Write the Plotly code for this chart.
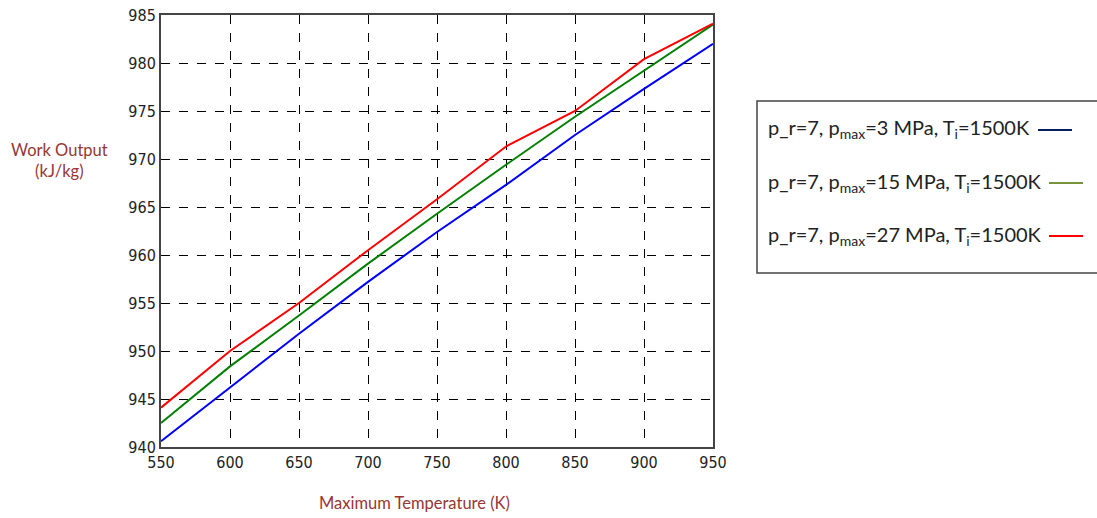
import plotly.graph_objects as go

temps = [550, 600, 650, 700, 750, 800, 850, 900, 950]
work_3mpa = [940.6, 946.2, 951.8, 957.2, 962.4, 967.3, 972.5, 977.3, 982.0]
work_15mpa = [942.5, 948.4, 953.7, 959.1, 964.3, 969.4, 974.4, 979.2, 984.0]
work_27mpa = [944.1, 950.0, 955.0, 960.5, 965.8, 971.3, 975.0, 980.4, 984.1]

legend_labels = [
    "p_r=7, p<sub>max</sub>=3 MPa, T<sub>i</sub>=1500K",
    "p_r=7, p<sub>max</sub>=15 MPa, T<sub>i</sub>=1500K",
    "p_r=7, p<sub>max</sub>=27 MPa, T<sub>i</sub>=1500K",
]
legend_colors = ["#002060", "#77933C", "#FF0000"]
line_colors = ["#0000FF", "#008000", "#FF0000"]

W, H = 1097, 518
L, R, T, B = 161, 713, 15, 447

fig = go.Figure()
for ys, c in zip([work_3mpa, work_15mpa, work_27mpa], line_colors):
    fig.add_trace(go.Scatter(x=temps, y=ys, mode="lines",
                             line=dict(color=c, width=2), showlegend=False))

tickfont = dict(family="Liberation Sans Narrow, Arial Narrow, DejaVu Sans Condensed, sans-serif",
                size=16, color="#222222")
fig.update_layout(
    width=W, height=H, autosize=False,
    margin=dict(l=L, r=W - R, t=T, b=H - B, pad=0, autoexpand=False),
    paper_bgcolor="white", plot_bgcolor="white",
    xaxis=dict(range=[550, 950], dtick=50, tickfont=tickfont, automargin=False,
               ticklabeloverflow="allow",
               showgrid=True, gridcolor="black", griddash="dash", gridwidth=1,
               showline=True, linecolor="#444444", linewidth=2, mirror=True,
               zeroline=False, ticks="", ticklen=0),
    yaxis=dict(range=[940, 985], dtick=5, tickfont=tickfont, automargin=False,
               ticklabeloverflow="allow",
               showgrid=True, gridcolor="black", griddash="dash", gridwidth=1,
               showline=True, linecolor="#444444", linewidth=2, mirror=True,
               zeroline=False, ticks="", ticklen=0),
)

title_font = dict(family="Lato, Open Sans, sans-serif", size=16.5, color="#953735")

def px(xp):
    return (xp - L) / (R - L)

def py(yp):
    return (B - yp) / (B - T)

fig.add_annotation(text="Work Output<br>(kJ/kg)", xref="paper", yref="paper",
                   x=px(59), y=py(160), showarrow=False, xanchor="center", yanchor="middle",
                   font=title_font, align="center")
fig.add_annotation(text="Maximum Temperature (K)", xref="paper", yref="paper",
                   x=px(414), y=py(503), showarrow=False, xanchor="center", yanchor="middle",
                   font=title_font)

# legend box (runs off the right edge as in the reference)
fig.add_shape(type="rect", xref="paper", yref="paper",
              x0=px(757), x1=px(1120), y0=py(101), y1=py(273),
              line=dict(color="#444444", width=1.5), fillcolor="white")
leg_font = dict(family="Lato, Open Sans, sans-serif", size=20, color="#222222")
for i, (lab, c) in enumerate(zip(legend_labels, legend_colors)):
    yy = 129 + i * 53
    fig.add_annotation(text=lab, xref="paper", yref="paper", x=px(766), y=py(yy),
                       xanchor="left", yanchor="middle", showarrow=False, font=leg_font)
    x0 = 1038 if i == 0 else 1049
    fig.add_shape(type="line", xref="paper", yref="paper",
                  x0=px(x0), x1=px(x0 + 34), y0=py(yy + 1), y1=py(yy + 1),
                  line=dict(color=c, width=2))

fig.write_html("out.html", config={"displayModeBar": False},
               post_script="document.body.style.margin='0';document.body.style.overflow='hidden';")
